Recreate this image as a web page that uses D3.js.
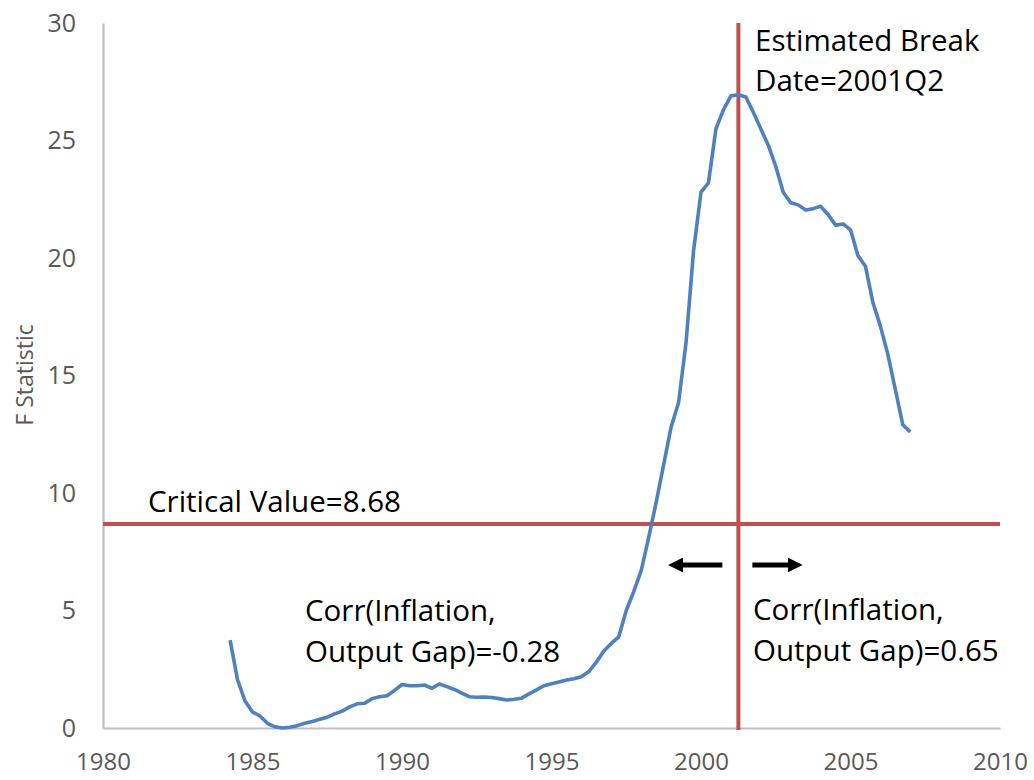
<!DOCTYPE html>
<html><head><meta charset="utf-8">
<script src="https://cdn.jsdelivr.net/npm/d3@7"></script>
<style>
html,body{margin:0;padding:0;background:#fff;}
svg{display:block;}
text{font-family:"Open Sans","Noto Sans",sans-serif;}
</style></head>
<body>
<script>
// Quarterly dates (decimal years) and F statistic values
const years = [
 1984.25,1984.50,1984.75,1985.00,1985.25,1985.50,1985.75,1986.00,1986.25,1986.50,1986.75,
 1987.00,1987.25,1987.50,1987.75,1988.00,1988.25,1988.50,1988.75,1989.00,1989.25,1989.50,1989.75,
 1990.00,1990.25,1990.50,1990.75,1991.00,1991.25,1991.50,1991.75,1992.00,1992.25,1992.50,1992.75,
 1993.00,1993.25,1993.50,1993.75,1994.00,1994.25,1994.50,1994.75,1995.00,1995.25,1995.50,1995.75,
 1996.00,1996.25,1996.50,1996.75,1997.00,1997.25,1997.50,1997.75,1998.00,1998.25,1998.50,1998.75,
 1999.00,1999.25,1999.50,1999.75,2000.00,2000.25,2000.50,2000.75,2001.00,2001.25,2001.50,2001.75,
 2002.00,2002.25,2002.50,2002.75,2003.00,2003.25,2003.50,2003.75,2004.00,2004.25,2004.50,2004.75,
 2005.00,2005.25,2005.50,2005.75,2006.00,2006.25,2006.50,2006.75,2007.00];
const fStat = [
 3.74,2.05,1.15,0.68,0.51,0.20,0.05,0.00,0.03,0.10,0.20,
 0.28,0.37,0.46,0.60,0.72,0.90,1.03,1.05,1.25,1.33,1.37,1.60,
 1.85,1.80,1.80,1.83,1.69,1.87,1.76,1.64,1.48,1.33,1.31,1.32,
 1.30,1.25,1.19,1.22,1.27,1.45,1.62,1.80,1.88,1.96,2.04,2.10,
 2.18,2.40,2.80,3.28,3.60,3.88,5.00,5.80,6.70,8.10,9.60,11.20,
 12.80,13.85,16.40,20.30,22.80,23.20,25.50,26.30,26.90,26.95,26.85,26.20,
 25.50,24.80,23.90,22.80,22.35,22.26,22.04,22.10,22.20,21.85,21.40,21.45,
 21.20,20.10,19.65,18.10,17.10,15.90,14.40,12.90,12.60];

const xTicks = [1980,1985,1990,1995,2000,2005,2010];
const yTicks = [0,5,10,15,20,25,30];
const criticalValue = 8.68;
const breakDate = 2001.25;
const yLabel = "F Statistic";
const critLabel = "Critical Value=8.68";
const breakLabel = ["Estimated Break","Date=2001Q2"];
const leftCorr = ["Corr(Inflation,","Output Gap)=-0.28"];
const rightCorr = ["Corr(Inflation,","Output Gap)=0.65"];

const W = 1034, H = 780;
const x0 = 103, x1 = 1000, yTop = 23, yBot = 728;

const svg = d3.select("body").append("svg").attr("width", W).attr("height", H);
const x = d3.scaleLinear().domain([1980, 2010]).range([x0, x1]);
const y = d3.scaleLinear().domain([0, 30]).range([yBot, yTop]);

// axes
const yAxis = svg.append("g").attr("transform", `translate(${x0},0)`)
  .call(d3.axisLeft(y).tickValues(yTicks).tickSize(0).tickPadding(27));
const xAxis = svg.append("g").attr("transform", `translate(0,${yBot})`)
  .call(d3.axisBottom(x).tickValues(xTicks).tickSize(0).tickPadding(25).tickFormat(d3.format("d")));
[yAxis, xAxis].forEach(g => {
  g.select(".domain").attr("stroke", "#bfbfbf").attr("stroke-width", 2.2);
  g.selectAll("text").attr("fill", "#595959").style("font-size", "25px").attr("font-family", null);
});
xAxis.selectAll("text").style("font-size", "24px");

svg.append("text").attr("transform", `translate(24,375) rotate(-90)`)
  .attr("text-anchor", "middle").attr("dominant-baseline", "central")
  .attr("fill", "#595959").style("font-size", "23px").text(yLabel);

// reference lines
svg.append("line").attr("x1", x(1980)).attr("x2", x(2010))
  .attr("y1", y(criticalValue)).attr("y2", y(criticalValue))
  .attr("stroke", "#c0504d").attr("stroke-width", 4);
svg.append("line").attr("x1", x(breakDate)).attr("x2", x(breakDate))
  .attr("y1", y(30)).attr("y2", y(0) + 2)
  .attr("stroke", "#c0504d").attr("stroke-width", 4);

// series
const line = d3.line().x((d, i) => x(years[i])).y(d => y(d));
svg.append("path").datum(fStat).attr("d", line)
  .attr("fill", "none").attr("stroke", "#4f81bd").attr("stroke-width", 3.6)
  .attr("stroke-linejoin", "round");

// arrows
const defs = svg.append("defs");
defs.append("marker").attr("id", "ah").attr("viewBox", "0 0 10 10")
  .attr("refX", 5).attr("refY", 5).attr("markerWidth", 3).attr("markerHeight", 3)
  .attr("markerUnits", "strokeWidth").attr("orient", "auto")
  .append("path").attr("d", "M0,0 L10,5 L0,10 Z").attr("fill", "#000");
const arrowY = 565;
svg.append("line").attr("x1", x(2001.25) - 16).attr("x2", x(1999.15))
  .attr("y1", arrowY).attr("y2", arrowY).attr("stroke", "#000").attr("stroke-width", 5)
  .attr("marker-end", "url(#ah)");
svg.append("line").attr("x1", x(2001.25) + 14).attr("x2", x(2003.15))
  .attr("y1", arrowY).attr("y2", arrowY).attr("stroke", "#000").attr("stroke-width", 5)
  .attr("marker-end", "url(#ah)");

// annotations
const ann = (lines, px, py, dy) => {
  const t = svg.append("text").attr("fill", "#000").style("font-size", "29.5px");
  lines.forEach((s, i) => t.append("tspan").attr("x", px).attr("y", py + i * dy).text(s));
};
ann([critLabel], 148, 512, 0);
ann(breakLabel, 755, 51, 40);
ann(leftCorr, 305, 621, 41);
ann(rightCorr, 753, 620, 41);
</script>
</body></html>
